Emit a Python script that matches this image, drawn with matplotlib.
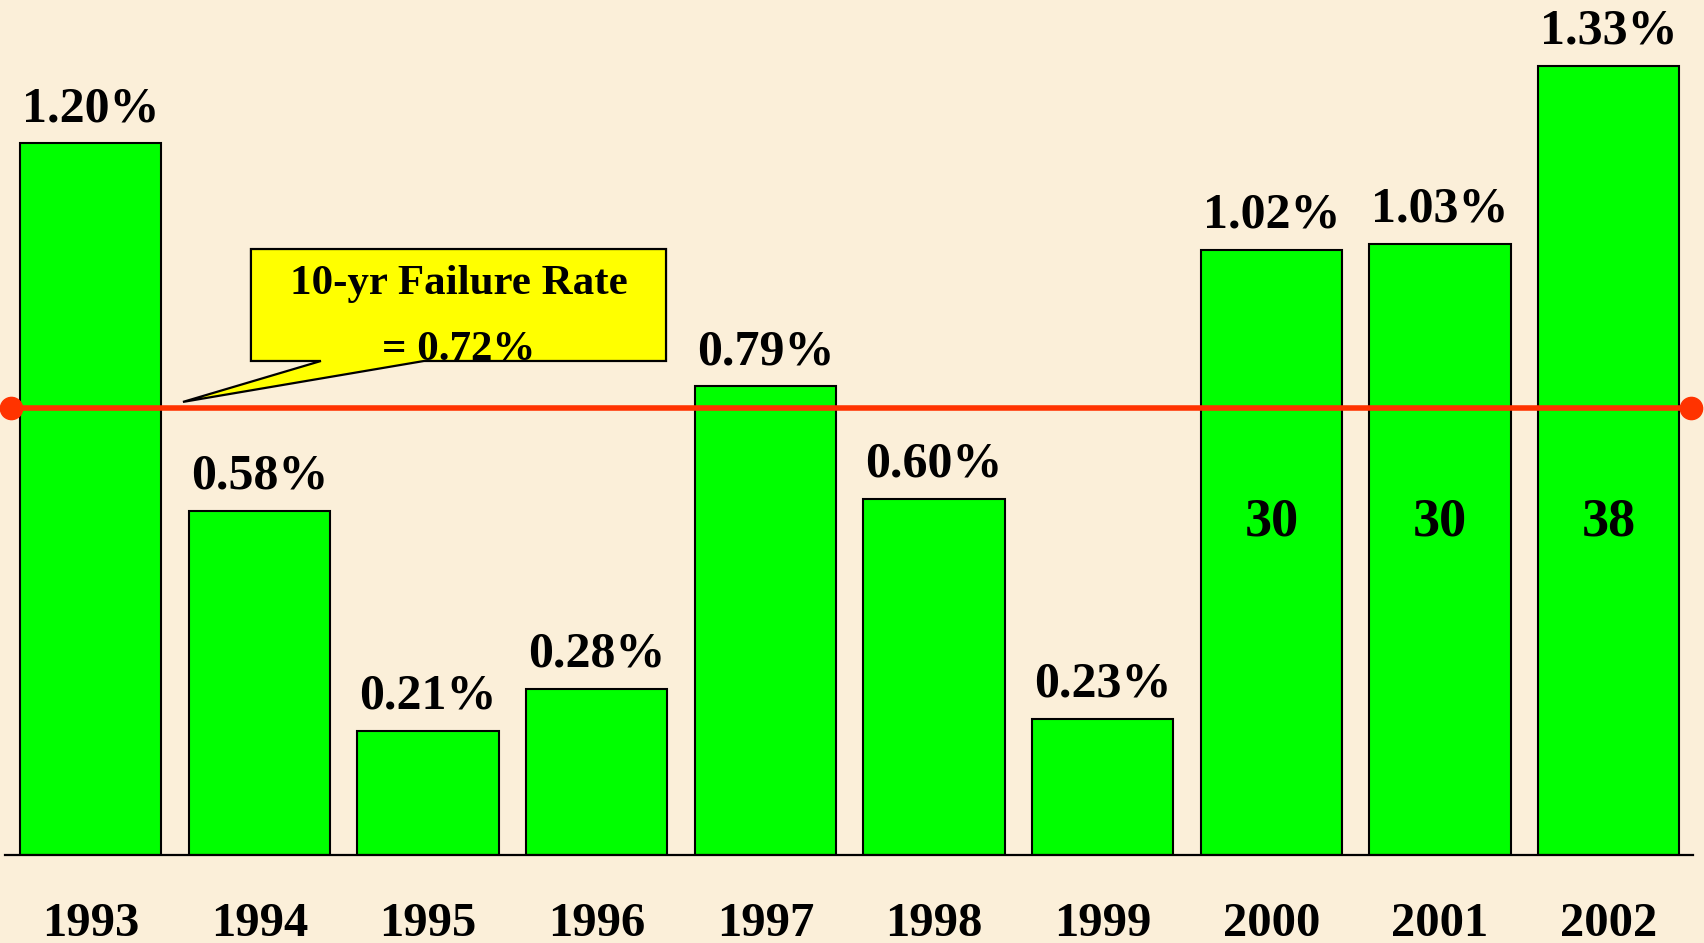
import matplotlib
matplotlib.use("Agg")
import matplotlib.pyplot as plt
from matplotlib.patches import Polygon

# ---- data ----
years = ["1993", "1994", "1995", "1996", "1997", "1998", "1999", "2000", "2001", "2002"]
failure_rates = [1.20, 0.58, 0.21, 0.28, 0.79, 0.60, 0.23, 1.02, 1.03, 1.33]
rate_labels = ["1.20%", "0.58%", "0.21%", "0.28%", "0.79%", "0.60%", "0.23%", "1.02%", "1.03%", "1.33%"]
inner_counts = ["", "", "", "", "", "", "", "30", "30", "38"]
callout_line1 = "10-yr Failure Rate"
callout_line2 = "= 0.72%"
avg_line_level = 0.753  # where the red reference line sits in the picture

# ---- style ----
BG = "#FBEFD9"
GREEN = "#00FF00"
RED = "#FF3300"
YELLOW = "#FFFF00"
FONT = "Liberation Serif"

W, H, DPI = 17.04, 9.43, 100
fig = plt.figure(figsize=(W, H), dpi=DPI, facecolor=BG)

base_px = 87.8           # baseline from bottom (pixels)
left_px, right_px = 5, 1693
px_per_unit_y = 593.3
pitch = 168.67
center0 = 90.7

ax = fig.add_axes([left_px / 1704, base_px / 943, (right_px - left_px) / 1704, 1 - base_px / 943])
ax.set_facecolor("none")
ax.set_xlim((left_px - center0) / pitch, (right_px - center0) / pitch)
ax.set_ylim(0, (943 - base_px) / px_per_unit_y)

x = list(range(len(years)))
ax.bar(x, failure_rates, width=0.838, color=GREEN, edgecolor="black", linewidth=1.5, zorder=2)

for spine in ["top", "left", "right"]:
    ax.spines[spine].set_visible(False)
ax.spines["bottom"].set_linewidth(1.6)
ax.spines["bottom"].set_zorder(3)
ax.set_yticks([])
ax.set_xticks(x)
ax.set_xticklabels(years, fontfamily=FONT, fontweight="bold", fontsize=35)
ax.tick_params(axis="x", length=0, pad=34)

# value labels above bars
for xi, v, lab in zip(x, failure_rates, rate_labels):
    ax.annotate(lab, (xi, v), xytext=(0, 16), textcoords="offset points",
                ha="center", va="baseline", fontfamily=FONT, fontweight="bold",
                fontsize=36, annotation_clip=False, zorder=5)

# counts inside bars
for xi, c in zip(x, inner_counts):
    if c:
        ax.text(xi, 0.56, c, ha="center", va="center", fontfamily=FONT,
                fontweight="bold", fontsize=39, zorder=5)

# red average line with end dots
n = len(years)
ax.plot([-0.4725, n - 1 + 0.488], [avg_line_level, avg_line_level], color=RED, lw=4,
        marker="o", markersize=16, solid_capstyle="butt", zorder=4, clip_on=False)

# callout box with pointer
box_l, box_r, box_t, box_b = 0.950, 3.411, 1.0217, 0.833
tip = (0.547, 0.764)
callout = Polygon([(box_l, box_t), (box_r, box_t), (box_r, box_b), (1.976, box_b),
                   tip, (1.365, box_b), (box_l, box_b)],
                  closed=True, facecolor=YELLOW, edgecolor="black", linewidth=1.6, zorder=6)
ax.add_patch(callout)
ax.text((box_l + box_r) / 2, 0.962, callout_line1, ha="center", va="center",
        fontfamily=FONT, fontweight="bold", fontsize=31, zorder=7)
ax.text((box_l + box_r) / 2, 0.852, callout_line2, ha="center", va="center",
        fontfamily=FONT, fontweight="bold", fontsize=31, zorder=7)

fig.savefig("out.png", dpi=DPI, facecolor=BG)
